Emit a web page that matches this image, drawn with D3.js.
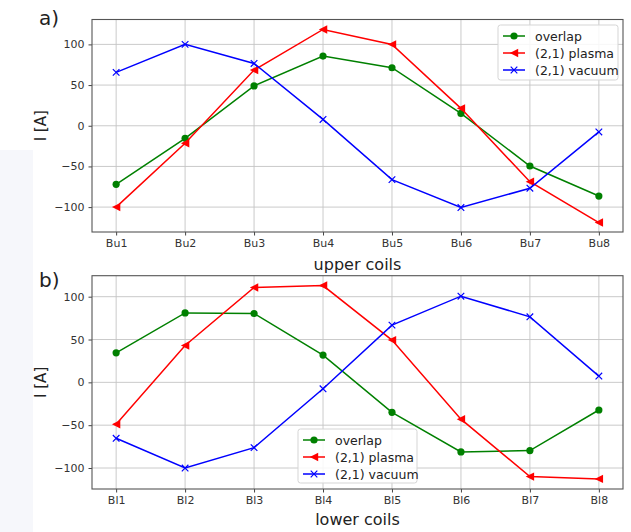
<!DOCTYPE html>
<html><head><meta charset="utf-8">
<script src="https://cdn.jsdelivr.net/npm/d3@7"></script>
<style>body{margin:0;background:#fff;}svg{display:block;font-family:"DejaVu Sans",sans-serif;}</style>
</head><body>
<svg id="c" width="631" height="532"></svg>
<script>
const upperCoils = ["Bu1","Bu2","Bu3","Bu4","Bu5","Bu6","Bu7","Bu8"];
const lowerCoils = ["Bl1","Bl2","Bl3","Bl4","Bl5","Bl6","Bl7","Bl8"];
const upperOverlap = [-72, -15.5, 49, 85.6, 71.3, 15.2, -49.5, -86.4];
const upperPlasma  = [-100, -21.6, 68.4, 118.4, 100, 21.4, -68.8, -119];
const upperVacuum  = [65.6, 100, 76.6, 7.8, -66.2, -100.5, -76.8, -7.6];
const lowerOverlap = [34.5, 81, 80.4, 31.8, -35, -81.2, -79.7, -32.3];
const lowerPlasma  = [-49, 43, 110.7, 113, 49.3, -43, -110, -112.7];
const lowerVacuum  = [-65.3, -100, -76.2, -7.5, 66.8, 100.6, 76.5, 7.3];
const yTicks = [-100, -50, 0, 50, 100];
const seriesNames = ["overlap", "(2,1) plasma", "(2,1) vacuum"];
const seriesColors = ["#008000", "#ff0000", "#0000ff"];
const seriesMarkers = ["circle", "triangle", "x"];

const svg = d3.select("#c");
// faint watermark
svg.append("path").attr("d","M0,150 L33,150 L33,532 L0,532 Z").attr("fill","#f6f7fb");

function marker(g, type, x, y, color) {
  if (type === "circle") {
    g.append("circle").attr("cx", x).attr("cy", y).attr("r", 3.6).attr("fill", color);
  } else if (type === "triangle") {
    const s = 4.2;
    g.append("path").attr("d", `M${x-s},${y} L${x+s},${y-s} L${x+s},${y+s} Z`).attr("fill", color);
  } else {
    const s = 3.3;
    g.append("path").attr("d", `M${x-s},${y-s} L${x+s},${y+s} M${x-s},${y+s} L${x+s},${y-s}`)
      .attr("stroke", color).attr("stroke-width", 1.2).attr("fill", "none");
  }
}

function panel(opts) {
  const {left, right, top, bottom, ydom, cats, data, xlabel, xlabelY, tag, tagY, legend} = opts;
  const x = d3.scaleLinear().domain([-0.35, cats.length - 1 + 0.35]).range([left, right]);
  const y = d3.scaleLinear().domain(ydom).range([bottom, top]);
  const g = svg.append("g");
  // grid
  g.append("g").selectAll("line").data(d3.range(cats.length)).join("line")
    .attr("x1", d => x(d)).attr("x2", d => x(d)).attr("y1", top).attr("y2", bottom)
    .attr("stroke", "#c4c4c4").attr("stroke-width", 0.9);
  g.append("g").selectAll("line").data(yTicks).join("line")
    .attr("x1", left).attr("x2", right).attr("y1", d => y(d)).attr("y2", d => y(d))
    .attr("stroke", "#c4c4c4").attr("stroke-width", 0.9);
  // axes
  const xa = d3.axisBottom(x).tickValues(d3.range(cats.length)).tickFormat(i => cats[i]).tickSize(3.5).tickPadding(4);
  const xg = g.append("g").attr("transform", `translate(0,${bottom})`).call(xa);
  const ya = d3.axisLeft(y).tickValues(yTicks).tickFormat(d => d < 0 ? "\u2212" + Math.abs(d) : d).tickSize(3.5).tickPadding(4);
  const yg = g.append("g").attr("transform", `translate(${left},0)`).call(ya);
  [xg, yg].forEach(a => {
    a.select(".domain").remove();
    a.selectAll("line").attr("stroke", "#444");
    a.selectAll("text").attr("font-size", 11).attr("fill", "#333").attr("font-family", "DejaVu Sans, sans-serif");
  });
  // lines
  data.forEach((vals, si) => {
    const line = d3.line().x((d, i) => x(i)).y(d => y(d));
    g.append("path").attr("d", line(vals)).attr("fill", "none")
      .attr("stroke", seriesColors[si]).attr("stroke-width", 1.5);
    vals.forEach((v, i) => marker(g, seriesMarkers[si], x(i), y(v), seriesColors[si]));
  });
  // frame
  g.append("rect").attr("x", left).attr("y", top).attr("width", right - left).attr("height", bottom - top)
    .attr("fill", "none").attr("stroke", "#555").attr("stroke-width", 1.1);
  // labels
  svg.append("text").attr("x", (left + right) / 2).attr("y", xlabelY).attr("text-anchor", "middle")
    .attr("font-size", 16).attr("fill", "#222").text(xlabel);
  svg.append("text").attr("transform", `translate(46,${(top + bottom) / 2}) rotate(-90)`)
    .attr("text-anchor", "middle").attr("font-size", 15).attr("fill", "#222").text("I [A]");
  svg.append("text").attr("x", 39).attr("y", tagY).attr("font-size", 20).attr("fill", "#222").text(tag);
  // legend
  const L = legend;
  const lg = svg.append("g");
  lg.append("rect").attr("x", L.x).attr("y", L.y).attr("width", L.w).attr("height", L.h).attr("rx", 2.5)
    .attr("fill", "#fff").attr("fill-opacity", 0.85).attr("stroke", "#d5d5d5");
  seriesNames.forEach((nm, i) => {
    const ry = L.y + 11 + i * 17;
    lg.append("line").attr("x1", L.x + 5).attr("x2", L.x + 27).attr("y1", ry).attr("y2", ry)
      .attr("stroke", seriesColors[i]).attr("stroke-width", 1.5);
    marker(lg, seriesMarkers[i], L.x + 16, ry, seriesColors[i]);
    lg.append("text").attr("x", L.x + 37).attr("y", ry + 4.5).attr("font-size", 12.5).attr("fill", "#222").text(nm);
  });
}

panel({left: 92, right: 623, top: 19.5, bottom: 232, ydom: [-130.6, 130.6], cats: upperCoils,
  data: [upperOverlap, upperPlasma, upperVacuum], xlabel: "upper coils", xlabelY: 270,
  tag: "a)", tagY: 25, legend: {x: 498, y: 25, w: 120, h: 55}});
panel({left: 92, right: 623, top: 275.7, bottom: 489, ydom: [-124.5, 124.5], cats: lowerCoils,
  data: [lowerOverlap, lowerPlasma, lowerVacuum], xlabel: "lower coils", xlabelY: 525,
  tag: "b)", tagY: 287, legend: {x: 298, y: 429, w: 119, h: 54}});
</script>
</body></html>
